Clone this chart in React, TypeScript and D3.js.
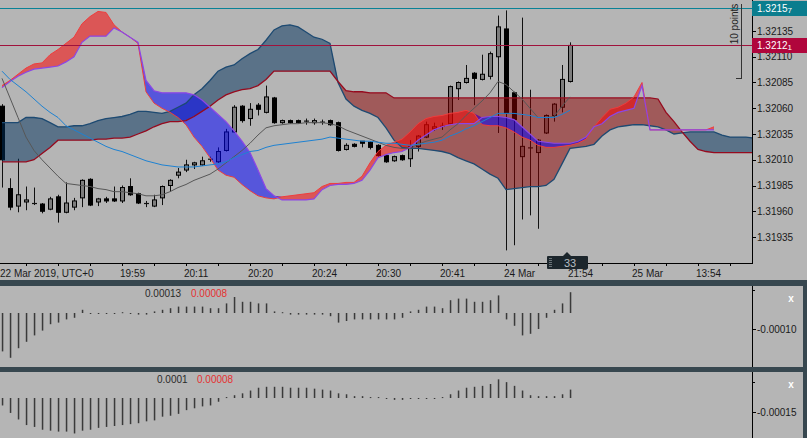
import React, { useEffect } from "react";
import * as d3 from "d3";

// ---------- candles (bar index 0..71) ----------
const open = [1.32062,1.31982,1.31965,1.31969,1.31968,1.31967,1.31962,1.31974,1.31959,1.31964,1.31973,1.31991,1.31969,1.31972,1.31972,1.31970,1.31984,1.31977,1.31968,1.31965,1.31973,1.31985,1.31995,1.32000,1.32005,1.32005,1.32011,1.32008,1.32019,1.32037,1.32062,1.32050,1.32063,1.32056,1.32070,1.32046,1.32048,1.32048,1.32048,1.32046,1.32047,1.32048,1.32046,1.32020,1.32025,1.32028,1.32027,1.32024,1.32014,1.32009,1.32014,1.32011,1.32023,1.32032,1.32040,1.32042,1.32045,1.32079,1.32085,1.32094,1.32088,1.32091,1.32110,1.32137,1.32075,1.32013,1.32021,1.32017,1.32036,1.32053,1.32061,1.32086];
const high = [1.32064,1.31992,1.32011,1.31984,1.31983,1.31968,1.31974,1.31976,1.31988,1.31973,1.31991,1.31992,1.31973,1.31974,1.31984,1.31985,1.31992,1.31978,1.31970,1.31976,1.31985,1.31991,1.32002,1.32010,1.32008,1.32013,1.32013,1.32022,1.32040,1.32063,1.32063,1.32065,1.32065,1.32082,1.32071,1.32049,1.32049,1.32049,1.32050,1.32050,1.32049,1.32049,1.32047,1.32026,1.32026,1.32028,1.32028,1.32025,1.32015,1.32014,1.32015,1.32029,1.32034,1.32047,1.32046,1.32046,1.32082,1.32086,1.32102,1.32095,1.32112,1.32115,1.32150,1.32155,1.32076,1.32148,1.32078,1.32030,1.32054,1.32065,1.32102,1.32124];
const low = [1.31983,1.31961,1.31959,1.31961,1.31966,1.31958,1.31961,1.31949,1.31958,1.31961,1.31964,1.31965,1.31965,1.31968,1.31969,1.31968,1.31975,1.31967,1.31964,1.31964,1.31966,1.31979,1.31992,1.31998,1.32001,1.32004,1.32008,1.32007,1.32018,1.32036,1.32046,1.32043,1.32053,1.32055,1.32045,1.32045,1.32045,1.32045,1.32044,1.32044,1.32044,1.32043,1.32018,1.32019,1.32022,1.32022,1.32020,1.32013,1.32007,1.32008,1.32009,1.32003,1.32018,1.32031,1.32038,1.32039,1.32044,1.32068,1.32084,1.32063,1.32087,1.32088,1.32036,1.31922,1.31927,1.31952,1.31956,1.31943,1.32035,1.32047,1.32056,1.32085];
const close = [1.32010,1.31964,1.31976,1.31971,1.31967,1.31960,1.31972,1.31959,1.31968,1.31970,1.31990,1.31966,1.31972,1.31970,1.31970,1.31983,1.31976,1.31968,1.31967,1.31971,1.31984,1.31990,1.31998,1.32005,1.32007,1.32009,1.32010,1.32018,1.32037,1.32061,1.32048,1.32059,1.32059,1.32071,1.32046,1.32048,1.32046,1.32046,1.32047,1.32048,1.32047,1.32044,1.32019,1.32024,1.32023,1.32026,1.32022,1.32014,1.32008,1.32013,1.32010,1.32023,1.32033,1.32044,1.32042,1.32043,1.32081,1.32085,1.32089,1.32089,1.32093,1.32113,1.32139,1.32055,1.32049,1.32023,1.32022,1.32029,1.32053,1.32064,1.32088,1.32121];

// ---------- overlay lines ----------
const grayLine = [1.32089,1.32070,1.32051,1.32032,1.32019,1.32010,1.32002,1.31994,1.31987,1.31986,1.31985,1.31984,1.31982,1.31981,1.31979,1.31979,1.31978,1.31977,1.31975,1.31975,1.31976,1.31979,1.31983,1.31986,1.31990,1.31993,1.31996,1.32001,1.32007,1.32013,1.32019,1.32026,1.32034,1.32041,1.32043,1.32044,1.32045,1.32045,1.32046,1.32046,1.32046,1.32045,1.32043,1.32039,1.32036,1.32033,1.32030,1.32027,1.32024,1.32022,1.32021,1.32021,1.32025,1.32028,1.32030,1.32032,1.32039,1.32045,1.32053,1.32060,1.32067,1.32075,1.32086,1.32083,1.32076,1.32069,1.32060,1.32051,1.32051,1.32052,1.32062,1.32071];
const blueLine = [1.32096,1.32088,1.32082,1.32076,1.32069,1.32062,1.32056,1.32051,1.32043,1.32039,1.32035,1.32031,1.32027,1.32023,1.32020,1.32018,1.32015,1.32012,1.32009,1.32007,1.32005,1.32004,1.32003,1.32003,1.32003,1.32004,1.32005,1.32006,1.32008,1.32012,1.32015,1.32018,1.32019,1.32022,1.32024,1.32025,1.32026,1.32027,1.32028,1.32029,1.32030,1.32032,1.32031,1.32030,1.32029,1.32028,1.32028,1.32027,1.32026,1.32026,1.32025,1.32024,1.32025,1.32026,1.32027,1.32029,1.32033,1.32036,1.32040,1.32043,1.32047,1.32051,1.32055,1.32055,1.32055,1.32054,1.32053,1.32051,1.32051,1.32051,1.32054,1.32058];

// ---------- cloud 2 (slate / brown), bars 0..94 ----------
const spanBlue = [1.32046,1.32046,1.32046,1.32051,1.32051,1.32050,1.32046,1.32042,1.32042,1.32043,1.32043,1.32045,1.32048,1.32050,1.32051,1.32052,1.32054,1.32057,1.32057,1.32056,1.32055,1.32057,1.32061,1.32065,1.32073,1.32079,1.32087,1.32096,1.32100,1.32102,1.32108,1.32113,1.32117,1.32126,1.32136,1.32140,1.32141,1.32139,1.32134,1.32129,1.32127,1.32123,1.32085,1.32069,1.32062,1.32058,1.32055,1.32051,1.32041,1.32029,1.32022,1.32021,1.32021,1.32020,1.32019,1.32018,1.32016,1.32012,1.32009,1.32006,1.32001,1.31996,1.31992,1.31981,1.31982,1.31983,1.31984,1.31984,1.31985,1.31991,1.32006,1.32021,1.32022,1.32023,1.32025,1.32033,1.32039,1.32042,1.32043,1.32044,1.32044,1.32043,1.32042,1.32039,1.32035,1.32036,1.32037,1.32037,1.32037,1.32037,1.32034,1.32032,1.32032,1.32032,1.32031];
const spanRed = [1.32008,1.32008,1.32008,1.32008,1.32010,1.32016,1.32022,1.32029,1.32029,1.32029,1.32029,1.32029,1.32030,1.32030,1.32031,1.32031,1.32032,1.32035,1.32038,1.32042,1.32045,1.32047,1.32047,1.32048,1.32052,1.32057,1.32062,1.32068,1.32073,1.32076,1.32078,1.32079,1.32082,1.32088,1.32096,1.32096,1.32096,1.32096,1.32096,1.32096,1.32096,1.32096,1.32086,1.32077,1.32076,1.32076,1.32075,1.32075,1.32075,1.32070,1.32070,1.32070,1.32070,1.32070,1.32070,1.32070,1.32070,1.32070,1.32070,1.32070,1.32070,1.32070,1.32070,1.32070,1.32070,1.32070,1.32070,1.32070,1.32070,1.32070,1.32070,1.32070,1.32070,1.32070,1.32070,1.32070,1.32070,1.32070,1.32070,1.32070,1.32070,1.32070,1.32069,1.32056,1.32047,1.32037,1.32028,1.32020,1.32018,1.32017,1.32017,1.32017,1.32017,1.32017,1.32017];

// ---------- cloud 1 (red / blue), bars 0..89 ----------
const cloudPurple = [1.32080,1.32086,1.32091,1.32095,1.32098,1.32099,1.32100,1.32101,1.32105,1.32110,1.32124,1.32130,1.32130,1.32130,1.32138,1.32134,1.32129,1.32124,1.32087,1.32077,1.32075,1.32075,1.32075,1.32075,1.32073,1.32068,1.32061,1.32054,1.32047,1.32038,1.32028,1.32017,1.32000,1.31982,1.31975,1.31971,1.31971,1.31971,1.31971,1.31972,1.31981,1.31985,1.31986,1.31986,1.31987,1.31990,1.32000,1.32012,1.32015,1.32017,1.32018,1.32022,1.32029,1.32034,1.32039,1.32042,1.32044,1.32045,1.32045,1.32045,1.32051,1.32052,1.32052,1.32051,1.32049,1.32042,1.32035,1.32028,1.32027,1.32026,1.32026,1.32026,1.32028,1.32032,1.32042,1.32045,1.32052,1.32056,1.32058,1.32060,1.32082,1.32039,1.32039,1.32039,1.32039,1.32039,1.32039,1.32039,1.32039,1.32039];
const cloudRed = [1.32082,1.32087,1.32093,1.32099,1.32103,1.32104,1.32112,1.32117,1.32123,1.32129,1.32142,1.32149,1.32154,1.32153,1.32141,1.32134,1.32129,1.32123,1.32076,1.32065,1.32060,1.32056,1.32051,1.32044,1.32032,1.32023,1.32012,1.32000,1.31995,1.31993,1.31986,1.31980,1.31975,1.31973,1.31972,1.31974,1.31975,1.31976,1.31977,1.31978,1.31984,1.31987,1.31987,1.31988,1.31988,1.31994,1.32007,1.32018,1.32024,1.32027,1.32030,1.32037,1.32045,1.32050,1.32052,1.32053,1.32055,1.32056,1.32058,1.32055,1.32044,1.32043,1.32043,1.32041,1.32037,1.32032,1.32029,1.32024,1.32022,1.32022,1.32023,1.32024,1.32026,1.32030,1.32042,1.32051,1.32059,1.32061,1.32065,1.32071,1.32085,1.32039,1.32039,1.32039,1.32039,1.32039,1.32039,1.32039,1.32039,1.32042];

// ---------- oscillator panels ----------
const osc1 = [-0.00024,-0.00028,-0.00022,-0.00018,-0.00014,-0.00011,-0.00007,-0.00006,-0.00004,-0.00003,0.00002,-0.000005,-0.000005,-0.000005,-0.000005,0.000005,0,-0.00001,-0.00001,0.00001,0.00002,0.00003,0.00004,0.00004,0.00004,0.00004,0.00003,0.00003,0.00006,0.0001,0.00007,0.00007,0.00006,0.00006,0.00001,0.000005,-0.00001,-0.00001,-0.00001,-0.00001,-0.00001,-0.00002,-0.00006,-0.00005,-0.00004,-0.00004,-0.00004,-0.00004,-0.00004,-0.00004,-0.00003,0.00001,0.00002,0.00004,0.00004,0.00003,0.00008,0.00009,0.00009,0.00007,0.00007,0.00008,0.00011,-0.00004,-0.00008,-0.00014,-0.00013,-0.0001,-0.00003,0.00002,0.00006,0.00013];
const osc2 = [-0.00008,-0.00016,-0.00023,-0.00029,-0.00031,-0.00034,-0.00035,-0.00036,-0.00036,-0.00038,-0.00035,-0.00034,-0.00032,-0.00031,-0.0003,-0.00029,-0.00028,-0.00027,-0.00025,-0.00024,-0.0002,-0.00019,-0.00017,-0.00013,-0.00011,-0.00009,-0.00008,-0.00004,0.00001,0.00003,0.00005,0.00008,0.00011,0.00012,0.00012,0.00012,0.00011,0.00011,0.00011,0.0001,0.00009,0.00008,0.00005,0.00004,0.00002,0.00002,0.00001,0.00001,-0.00001,-0.00002,-0.00002,-0.00001,-0.00001,-0.00001,0,0.00001,0.00004,0.00008,0.00011,0.00012,0.00013,0.00015,0.0002,0.00017,0.00013,0.00008,0.00003,0.00002,0.00002,0.00002,0.00004,0.00009];

// ---------- axes text ----------
const priceTicks = ["1.32135","1.32110","1.32085","1.32060","1.32035","1.32010","1.31985","1.31960","1.31935"];
const timeLabels = ["22 Mar 2019, UTC+0","19:59","20:11","20:20","20:24","20:30","20:41","24 Mar","21:54","25 Mar","13:54"];
const timeLabelBars = [-1,15,23,31,39,47,55,63,71,79,87];
const askPrice = 1.32157;
const bidPrice = 1.32121;

const FONT = "'Liberation Sans', Arial, sans-serif";

export default function App() {
  useEffect(() => {
    document.body.style.margin = "0";
  }, []);

  const W = 807, H = 438;
  const plotR = 752, plotB = 263;
  const x = d3.scaleLinear().domain([0, 94]).range([2, 754]);
  const y = d3.scaleLinear().domain([1.31935, 1.32135]).range([237, 31]);
  const y1 = d3.scaleLinear().domain([0, -0.0001]).range([313, 329]);
  const y2 = d3.scaleLinear().domain([0, -0.00015]).range([398, 412]);

  const fillAbove = (a: number[], b: number[]) =>
    d3.area<number>()
      .x((i) => x(i))
      .y0((i) => y(b[i]))
      .y1((i) => y(Math.max(a[i], b[i])))(d3.range(a.length)) || "";
  const lineOf = (arr: number[]) =>
    d3.line<number>().x((_, i) => x(i)).y((v) => y(v))(arr) || "";

  const tickBars = d3.range(3, 94, 4);

  return (
    <svg width={W} height={H} style={{ display: "block", position: "absolute", left: 0, top: 0 }} fontFamily={FONT}>
      <defs>
        <clipPath id="plot"><rect x={0} y={0} width={plotR} height={plotB} /></clipPath>
      </defs>
      <rect x={0} y={0} width={W} height={H} fill="#b5b5b5" />

      <g clipPath="url(#plot)">
        {/* candles */}
        {open.map((o, i) => {
          const c = close[i];
          const cx = Math.round(x(i));
          const bull = c >= o;
          const top = y(Math.max(o, c));
          const bot = y(Math.min(o, c));
          const h = Math.max(bot - top, 1);
          return (
            <g key={"c" + i}>
              <line x1={cx + 0.5} x2={cx + 0.5} y1={y(high[i])} y2={y(low[i])} stroke="#111" strokeWidth={1} />
              {h <= 1.2 ? (
                <line x1={cx - 2} x2={cx + 3} y1={top + 0.5} y2={top + 0.5} stroke="#111" strokeWidth={1.2} />
              ) : (
                <rect x={cx - 1.5} y={top} width={4} height={h} fill={bull ? "#7d7d7d" : "#000"} stroke="#000" strokeWidth={1} />
              )}
            </g>
          );
        })}

        {/* cloud 2 */}
        <path d={fillAbove(spanBlue, spanRed)} fill="rgba(0,48,92,0.5)" />
        <path d={fillAbove(spanRed, spanBlue)} fill="rgba(139,0,0,0.5)" />
        {/* cloud 1 */}
        <path d={fillAbove(cloudRed, cloudPurple)} fill="rgba(255,0,0,0.52)" />
        <path d={fillAbove(cloudPurple, cloudRed)} fill="rgba(0,0,255,0.52)" />

        <path d={lineOf(spanBlue)} fill="none" stroke="#1d4a72" strokeWidth={1.3} />
        <path d={lineOf(spanRed)} fill="none" stroke="#960a1e" strokeWidth={1.3} />
        <path d={lineOf(cloudRed)} fill="none" stroke="#f03c3c" strokeWidth={1} />
        <path d={lineOf(cloudPurple)} fill="none" stroke="#8c46e6" strokeWidth={1.2} />

        <path d={lineOf(grayLine)} fill="none" stroke="#575757" strokeWidth={1} />
        <path d={lineOf(blueLine)} fill="none" stroke="#1e82d2" strokeWidth={1} />

        {/* price lines */}
        <line x1={0} x2={plotR} y1={Math.round(y(askPrice)) + 0.5} y2={Math.round(y(askPrice)) + 0.5} stroke="#0a8296" strokeWidth={1} />
        <line x1={0} x2={plotR} y1={Math.round(y(bidPrice)) + 0.5} y2={Math.round(y(bidPrice)) + 0.5} stroke="#a0123c" strokeWidth={1} />
      </g>

      {/* 10 points ruler */}
      <line x1={741.5} x2={741.5} y1={4} y2={78} stroke="#333" strokeWidth={1} />
      <line x1={736} x2={742} y1={78.5} y2={78.5} stroke="#333" strokeWidth={1} />
      <text x={0} y={0} transform="translate(738,24) rotate(-90)" textAnchor="middle" fontSize={10} fill="#222">10 points</text>

      {/* axes */}
      <line x1={plotR + 0.5} x2={plotR + 0.5} y1={0} y2={plotB} stroke="#000" />
      <line x1={0} x2={plotR + 1} y1={plotB + 0.5} y2={plotB + 0.5} stroke="#000" />
      {priceTicks.map((t) => {
        const py = y(parseFloat(t));
        return (
          <g key={t}>
            <line x1={plotR} x2={plotR + 4} y1={Math.round(py) + 0.5} y2={Math.round(py) + 0.5} stroke="#000" />
            <text x={757} y={py + 3.6} fontSize={10} fill="#1a1a1a">{t}</text>
          </g>
        );
      })}
      {tickBars.map((b) => (
        <line key={"tb" + b} x1={Math.round(x(b)) + 0.5} x2={Math.round(x(b)) + 0.5} y1={plotB} y2={plotB + 3} stroke="#000" />
      ))}
      {timeLabels.map((t, k) => (
        <text key={t} x={k === 0 ? 0 : x(timeLabelBars[k]) - 2} y={277} fontSize={10} fill="#1a1a1a">{t}</text>
      ))}

      {/* current price tags */}
      <rect x={plotR} y={Math.round(y(askPrice)) - 7} width={W - plotR} height={15} fill="#0b7d8e" />
      <text x={757} y={y(askPrice) + 4} fontSize={10} fill="#fff">1.3215<tspan fontSize={8} dy={1}>7</tspan></text>
      <rect x={plotR} y={Math.round(y(bidPrice)) - 7} width={W - plotR} height={15} fill="#b0063c" />
      <text x={757} y={y(bidPrice) + 4} fontSize={10} fill="#fff">1.3212<tspan fontSize={8} dy={1}>1</tspan></text>

      {/* bar count tooltip */}
      <rect x={547} y={256} width={41} height={13} fill="#1c262c" rx={1} />
      <path d="M563,256 L567,252 L571,256 Z" fill="#1c262c" />
      {[258, 260, 262, 264, 266].map((yy) => (
        <rect key={"g" + yy} x={549} y={yy} width={3} height={1} fill="#6a7378" />
      ))}
      <text x={570} y={266.5} fontSize={11} fill="#b8bec2" textAnchor="middle">33</text>

      {/* panel separators */}
      <rect x={0} y={280} width={W} height={6} fill="#37474f" />
      <rect x={0} y={367} width={W} height={5} fill="#37474f" />
      <rect x={803} y={280} width={4} height={H - 280} fill="#37474f" />

      {/* panel 1 */}
      {osc1.map((v, i) => {
        const a = y1(0), b = y1(v);
        const top = Math.min(a, b);
        const h = Math.max(Math.abs(b - a), 1);
        return <rect key={"o1" + i} x={x(i) - 0.2} y={top} width={1.5} height={h} fill="#3a3a3a" />;
      })}
      <text x={145} y={297} fontSize={10} fill="#2a2a2a">0.00013</text>
      <text x={191} y={297} fontSize={10} fill="#e53030">0.00008</text>
      <line x1={plotR + 0.5} x2={plotR + 0.5} y1={286} y2={367} stroke="#000" />
      <line x1={plotR} x2={plotR + 3} y1={290.5} y2={290.5} stroke="#000" />
      <line x1={plotR} x2={plotR + 4} y1={Math.round(y1(-0.0001)) + 0.5} y2={Math.round(y1(-0.0001)) + 0.5} stroke="#000" />
      <text x={757} y={y1(-0.0001) + 3.6} fontSize={10} fill="#1a1a1a">-0.00010</text>
      <text x={791} y={302} fontSize={10} fontWeight="bold" fill="#fff" textAnchor="middle">x</text>

      {/* panel 2 */}
      {osc2.map((v, i) => {
        const a = y2(0), b = y2(v);
        const top = Math.min(a, b);
        const h = Math.max(Math.abs(b - a), 1);
        return <rect key={"o2" + i} x={x(i) - 0.2} y={top} width={1.5} height={h} fill="#3a3a3a" />;
      })}
      <text x={157} y={383} fontSize={10} fill="#2a2a2a">0.0001</text>
      <text x={197} y={383} fontSize={10} fill="#e53030">0.00008</text>
      <line x1={plotR + 0.5} x2={plotR + 0.5} y1={372} y2={H} stroke="#000" />
      <line x1={plotR} x2={plotR + 3} y1={382.5} y2={382.5} stroke="#000" />
      <line x1={plotR} x2={plotR + 4} y1={Math.round(y2(-0.00015)) + 0.5} y2={Math.round(y2(-0.00015)) + 0.5} stroke="#000" />
      <text x={757} y={y2(-0.00015) + 3.6} fontSize={10} fill="#1a1a1a">-0.00015</text>
      <text x={791} y={388} fontSize={10} fontWeight="bold" fill="#fff" textAnchor="middle">x</text>
    </svg>
  );
}
